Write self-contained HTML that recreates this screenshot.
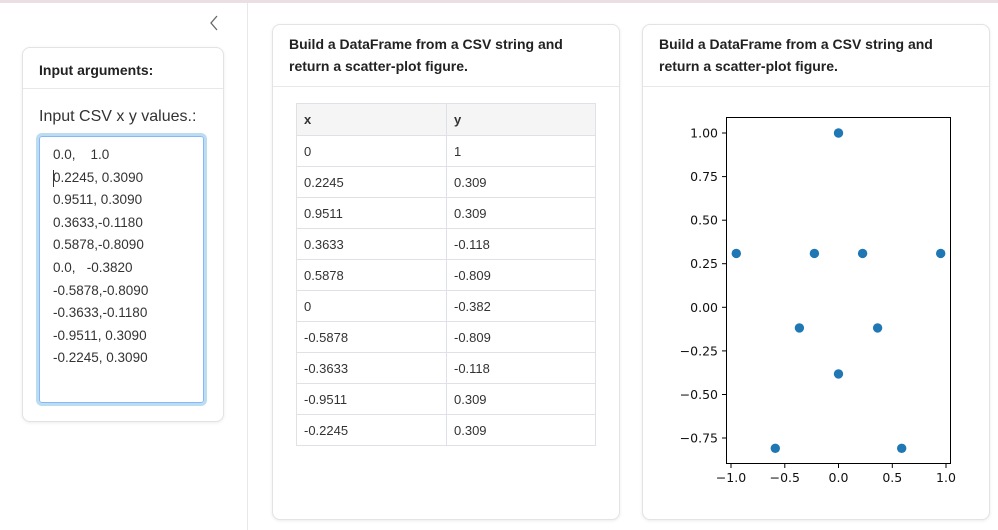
<!DOCTYPE html>
<html><head><meta charset="utf-8"><style>
body{margin:0;width:998px;height:530px;background:#fff;font-family:"Liberation Sans","DejaVu Sans",sans-serif;color:#212529;position:relative;overflow:hidden}
.abs{position:absolute}
.card{position:absolute;background:#fff;border:1px solid #e3e3e3;border-radius:8px;box-shadow:0 1px 3px rgba(0,0,0,0.08)}
.hdr{font-weight:bold;font-size:14px;color:#222}
table{border-collapse:collapse;font-size:13px;color:#333}
td,th{border:1px solid #dee2e6;text-align:left;padding:0 7px;height:30px;font-weight:normal}
th{background:#f5f5f5;font-weight:bold;height:31px}
</style></head><body>
<div class="abs" style="left:0;top:0;width:998px;height:3px;background:#eadfe2"></div>
<div class="abs" style="left:247px;top:3px;width:1px;height:527px;background:#e8e8e8"></div>
<svg class="abs" style="left:208px;top:14px" width="12" height="18"><polyline points="9,2 3,9 9,16" fill="none" stroke="#666" stroke-width="1.3"/></svg>

<div class="card" style="left:22px;top:47px;width:200px;height:373px">
  <div class="hdr abs" style="left:16px;top:14px">Input arguments:</div>
  <div class="abs" style="left:0;top:40px;width:200px;height:1px;background:#e8e8e8"></div>
  <div class="abs" style="left:16px;top:60px;font-size:16px;color:#333">Input CSV x y values.:</div>
  <div class="abs" style="left:16px;top:88px;width:163px;height:265px;border:1px solid #86b7fe;border-radius:3px;box-shadow:0 0 0 3px #bcdcf0"></div>
  <div class="abs" style="left:30px;top:96px;font-size:13.5px;line-height:22.6px;color:#333;white-space:pre">0.0,    1.0
0.2245, 0.3090
0.9511, 0.3090
0.3633,-0.1180
0.5878,-0.8090
0.0,   -0.3820
-0.5878,-0.8090
-0.3633,-0.1180
-0.9511, 0.3090
-0.2245, 0.3090</div>
  <div class="abs" style="left:30px;top:122px;width:1px;height:17px;background:#333"></div>
</div>

<div class="card" style="left:272px;top:24px;width:346px;height:494px">
  <div class="hdr abs" style="left:16px;top:8px;line-height:22px">Build a DataFrame from a CSV string and<br>return a scatter-plot figure.</div>
  <div class="abs" style="left:0;top:61px;width:346px;height:1px;background:#e8e8e8"></div>
  <table class="abs" style="left:23px;top:78px;width:300px">
    <tr><th style="width:135px">x</th><th>y</th></tr>
    <tr><td>0</td><td>1</td></tr>
    <tr><td>0.2245</td><td>0.309</td></tr>
    <tr><td>0.9511</td><td>0.309</td></tr>
    <tr><td>0.3633</td><td>-0.118</td></tr>
    <tr><td>0.5878</td><td>-0.809</td></tr>
    <tr><td>0</td><td>-0.382</td></tr>
    <tr><td>-0.5878</td><td>-0.809</td></tr>
    <tr><td>-0.3633</td><td>-0.118</td></tr>
    <tr><td>-0.9511</td><td>0.309</td></tr>
    <tr><td>-0.2245</td><td>0.309</td></tr>
  </table>
</div>

<div class="card" style="left:642px;top:24px;width:346px;height:494px">
  <div class="hdr abs" style="left:16px;top:8px;line-height:22px">Build a DataFrame from a CSV string and<br>return a scatter-plot figure.</div>
  <div class="abs" style="left:0;top:61px;width:346px;height:1px;background:#e8e8e8"></div>
</div>

<svg class="abs" style="left:0;top:0" width="998" height="530" font-family="DejaVu Sans, sans-serif" font-size="12.5" fill="#111">
  <rect x="726.5" y="117.5" width="224" height="346" fill="none" stroke="#000" stroke-width="1"/>
  <g stroke="#000">
    <line x1="722" x2="726" y1="133" y2="133"/><line x1="722" x2="726" y1="176.6" y2="176.6"/>
    <line x1="722" x2="726" y1="220.2" y2="220.2"/><line x1="722" x2="726" y1="263.7" y2="263.7"/>
    <line x1="722" x2="726" y1="307.3" y2="307.3"/><line x1="722" x2="726" y1="350.9" y2="350.9"/>
    <line x1="722" x2="726" y1="394.5" y2="394.5"/><line x1="722" x2="726" y1="438" y2="438"/>
    <line x1="731" x2="731" y1="464" y2="468"/><line x1="784.8" x2="784.8" y1="464" y2="468"/>
    <line x1="838.5" x2="838.5" y1="464" y2="468"/><line x1="892.3" x2="892.3" y1="464" y2="468"/>
    <line x1="946" x2="946" y1="464" y2="468"/>
  </g>
  <g text-anchor="end">
    <text x="718" y="137.5">1.00</text><text x="718" y="181">0.75</text><text x="718" y="224.7">0.50</text>
    <text x="718" y="268.2">0.25</text><text x="718" y="311.8">0.00</text><text x="718" y="355.4">−0.25</text>
    <text x="718" y="399">−0.50</text><text x="718" y="442.5">−0.75</text>
  </g>
  <g text-anchor="middle">
    <text x="731" y="482">−1.0</text><text x="784.8" y="482">−0.5</text><text x="838.5" y="482">0.0</text>
    <text x="892.3" y="482">0.5</text><text x="946" y="482">1.0</text>
  </g>
  <g fill="#1f77b4">
    <circle cx="838.5" cy="133" r="4.7"/>
    <circle cx="862.6" cy="253.4" r="4.7"/>
    <circle cx="940.7" cy="253.4" r="4.7"/>
    <circle cx="877.6" cy="327.9" r="4.7"/>
    <circle cx="901.7" cy="448.3" r="4.7"/>
    <circle cx="838.5" cy="373.9" r="4.7"/>
    <circle cx="775.3" cy="448.3" r="4.7"/>
    <circle cx="799.4" cy="327.9" r="4.7"/>
    <circle cx="736.3" cy="253.4" r="4.7"/>
    <circle cx="814.4" cy="253.4" r="4.7"/>
  </g>
</svg>
</body></html>
